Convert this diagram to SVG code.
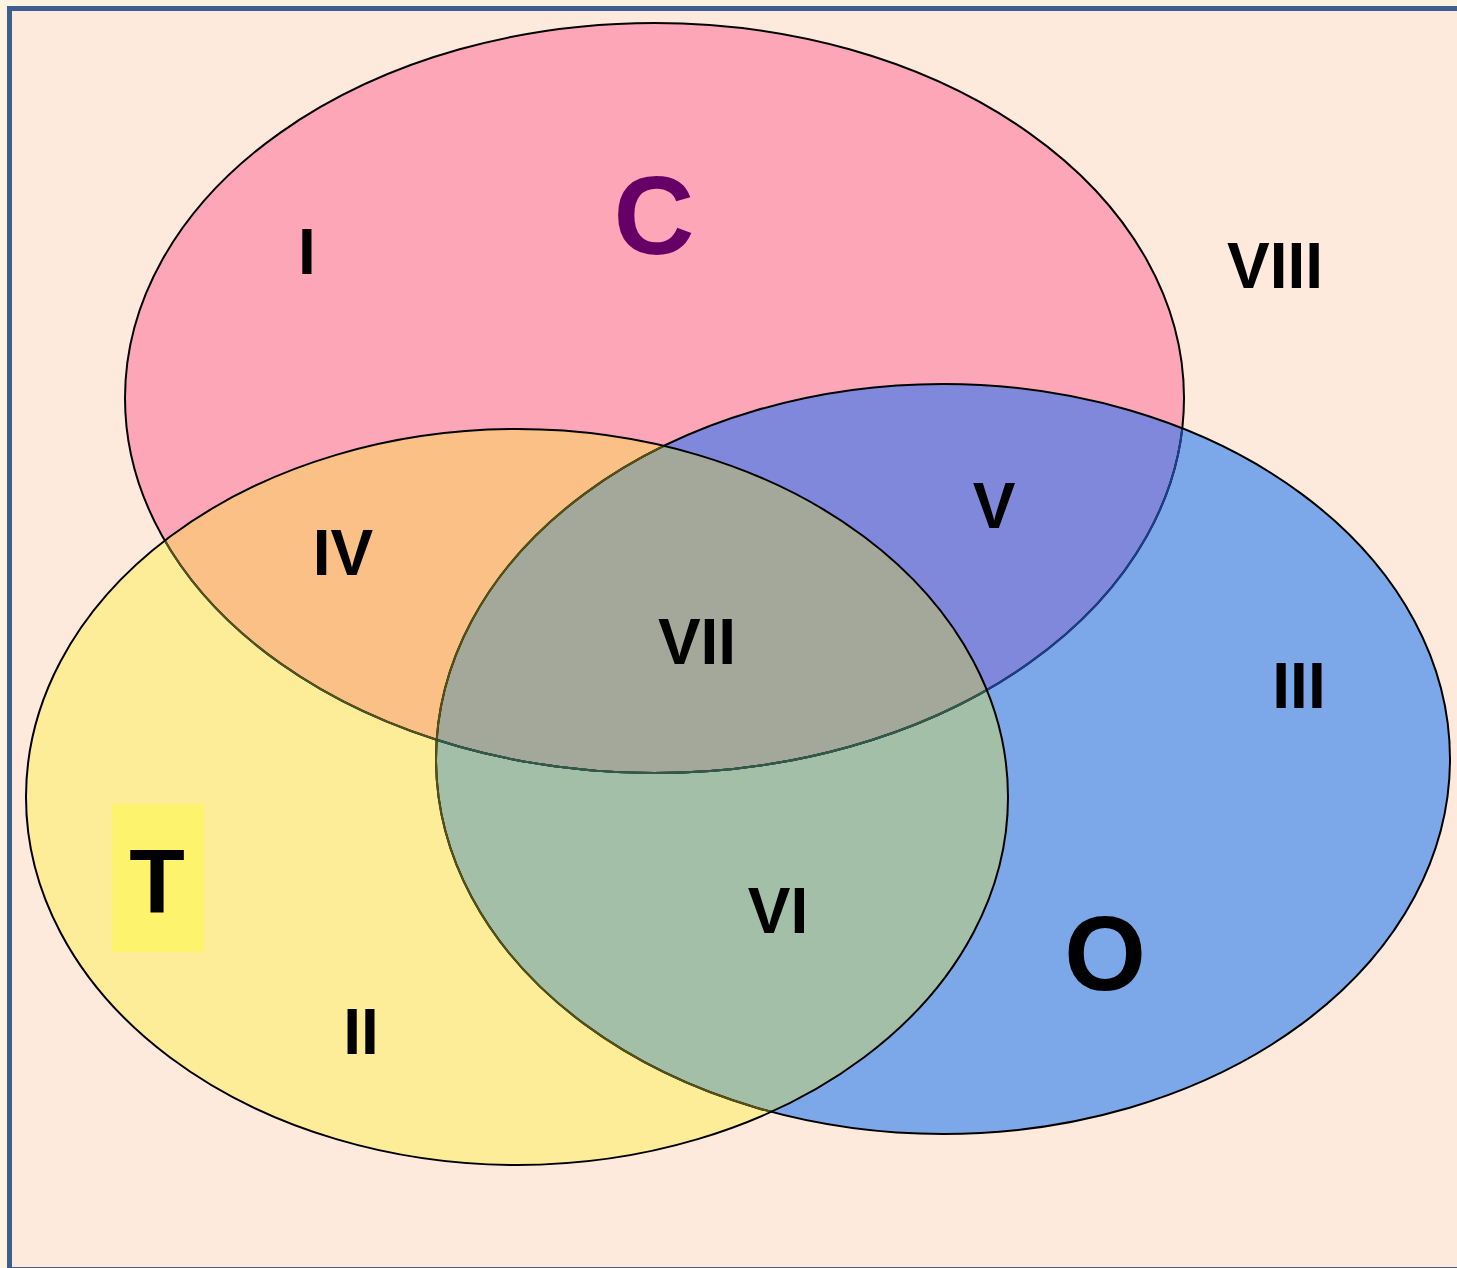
<svg xmlns="http://www.w3.org/2000/svg" width="1457" height="1268" viewBox="0 0 1457 1268">
  <defs>
    <clipPath id="clipC"><ellipse cx="654.5" cy="398" rx="529.5" ry="375"/></clipPath>
    <clipPath id="clipO"><ellipse cx="943" cy="759" rx="507" ry="375"/></clipPath>
    <clipPath id="clipT"><ellipse cx="517" cy="797" rx="491" ry="368"/></clipPath>
    <style>
      .lbl { font-family: "Liberation Sans", Arial, sans-serif; font-weight: bold; fill: #000; text-anchor: middle; }
      .region { font-size: 64px; }
      .edge { fill: none; stroke-width: 2; }
    </style>
  </defs>

  <rect x="0" y="0" width="1457" height="1268" fill="#fdf3e0"/>
  <rect id="frame" x="9.5" y="8.5" width="1460" height="1261" fill="#fdeadd" stroke="#3d5f8f" stroke-width="5"/>

  <g id="set-C">
    <ellipse cx="654.5" cy="398" rx="529.5" ry="375" fill="#fca6b8"/>
    <text class="lbl" x="654" y="254" font-size="112" style="fill:#660066">C</text>
  </g>
  <g id="set-O">
    <ellipse cx="943" cy="759" rx="507" ry="375" fill="#7ca8ea"/>
    <text class="lbl" x="1105" y="990" font-size="105">O</text>
  </g>
  <g id="set-T">
    <ellipse cx="517" cy="797" rx="491" ry="368" fill="#fdec98"/>
    <rect x="112" y="804" width="92" height="148" fill="#fdf36c"/>
    <text class="lbl" x="157" y="913" font-size="91">T</text>
  </g>

  <g id="overlaps">
    <ellipse cx="654.5" cy="398" rx="529.5" ry="375" fill="#8088dc" clip-path="url(#clipO)"/>
    <ellipse cx="654.5" cy="398" rx="529.5" ry="375" fill="#fbc086" clip-path="url(#clipT)"/>
    <ellipse cx="943" cy="759" rx="507" ry="375" fill="#a3bfa7" clip-path="url(#clipT)"/>
    <g clip-path="url(#clipT)">
      <ellipse cx="654.5" cy="398" rx="529.5" ry="375" fill="#a3a89a" clip-path="url(#clipO)"/>
    </g>
  </g>

  <g id="outlines">
    <ellipse class="edge" cx="654.5" cy="398" rx="529.5" ry="375" stroke="#000"/>
    <ellipse class="edge" cx="654.5" cy="398" rx="529.5" ry="375" stroke="#1c3f8c" clip-path="url(#clipO)"/>
    <ellipse class="edge" cx="654.5" cy="398" rx="529.5" ry="375" stroke="#4f5520" clip-path="url(#clipT)"/>
    <g clip-path="url(#clipT)">
      <ellipse class="edge" cx="654.5" cy="398" rx="529.5" ry="375" stroke="#2f5a4c" clip-path="url(#clipO)"/>
    </g>
    <ellipse class="edge" cx="943" cy="759" rx="507" ry="375" stroke="#000"/>
    <ellipse class="edge" cx="943" cy="759" rx="507" ry="375" stroke="#555210" clip-path="url(#clipT)"/>
    <ellipse class="edge" cx="517" cy="797" rx="491" ry="368" stroke="#000"/>
  </g>

  <g id="region-labels">
    <text class="lbl region" x="307" y="274">I</text>
    <text class="lbl region" x="361" y="1054">II</text>
    <text class="lbl region" x="1299" y="708">III</text>
    <text class="lbl region" x="343" y="575">IV</text>
    <text class="lbl region" x="994" y="528">V</text>
    <text class="lbl region" x="778" y="933">VI</text>
    <text class="lbl region" x="697" y="664">VII</text>
    <text class="lbl region" x="1275" y="288">VIII</text>
  </g>
</svg>
